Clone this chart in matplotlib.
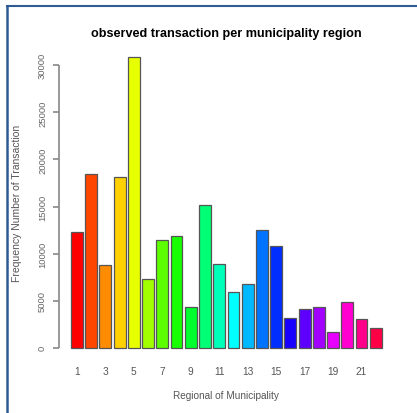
import colorsys
import matplotlib
matplotlib.use("Agg")
import matplotlib.pyplot as plt
from matplotlib.lines import Line2D

plt.rcParams['font.family'] = ['Liberation Sans', 'DejaVu Sans']

# regions 1..22 and observed transactions
regions = list(range(1, 23))
counts = [12300, 18500, 8750, 18150, 30850, 7270, 11470, 11870, 4350, 15130, 8920,
          5880, 6770, 12500, 10770, 3190, 4080, 4290, 1640, 4820, 3050, 2090]
yticks = [0, 5000, 10000, 15000, 20000, 25000, 30000]

n = len(regions)
# rainbow(n) like R
colors = [colorsys.hsv_to_rgb(i / n, 1, 1) for i in range(n)]

fig = plt.figure(figsize=(4.17, 4.14), dpi=100)
ax = fig.add_axes([0.1405, 0.1297, 0.8046, 0.7575])

lefts = [0.2 + 1.2 * i for i in range(n)]
centers = [l + 0.5 for l in lefts]
ax.bar(lefts, counts, width=1, align='edge', color=colors,
       edgecolor='#555555', linewidth=0.9)

xmin, xmax = lefts[0], lefts[-1] + 1
pad = (xmax - xmin) * 0.04
ax.set_xlim(xmin - pad, xmax + pad)
top = max(counts)
ax.set_ylim(-0.04 * top, 1.04 * top)

for s in ax.spines.values():
    s.set_visible(False)
ax.plot([xmin - pad, xmin - pad], [0, 30000], color='#888888', lw=1.2,
        clip_on=False, solid_capstyle='butt')
ax.set_yticks(yticks)
ax.set_yticklabels([str(v) for v in yticks], rotation=90, va='center',
                   fontsize=6.8, color='#666666')
ax.tick_params(axis='y', length=4.3, width=1.2, color='#888888', pad=4)

ax.set_xticks(centers[::2])
ax.set_xticklabels([str(r) for r in regions[::2]], fontsize=7.3, color='#555555')
ax.tick_params(axis='x', length=0, pad=5)

fig.text(0.543, 0.918, 'observed transaction per municipality region',
         ha='center', va='center', fontsize=9.1, fontweight='bold')
fig.text(0.543, 0.0435, 'Regional of Municipality', ha='center', va='center',
         fontsize=7.2, color='#555555')
fig.text(0.041, 0.508, 'Frequency Number of Transaction', ha='center', va='center',
         rotation=90, fontsize=7.5, color='#555555')

# screenshot frame
fig.add_artist(Line2D([7 / 417, 1], [1 - 7 / 414, 1 - 7 / 414], color='#2f5b93', lw=1.5))
fig.add_artist(Line2D([7 / 417, 7 / 417], [0, 1 - 7 / 414], color='#2f5b93', lw=1.8))

fig.savefig('out.png', dpi=100)
